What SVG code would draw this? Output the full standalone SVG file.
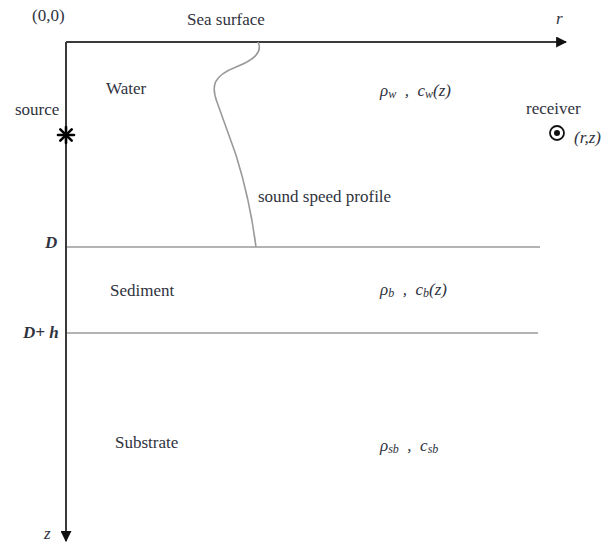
<svg xmlns="http://www.w3.org/2000/svg" width="603" height="545" viewBox="0 0 603 545">
<style>
text{font-family:"Liberation Serif","Times New Roman",serif;font-size:17px;fill:#2f3340}
.it{font-style:italic}
.sub{font-size:12px;font-style:italic}
.axis{stroke:#3a3a3a;stroke-width:2;fill:none}
.layer{stroke:#9a9a9a;stroke-width:1.6;fill:none}
</style>
<defs>
<marker id="ah" viewBox="0 0 10 10" refX="9" refY="5" markerWidth="11" markerHeight="11" markerUnits="userSpaceOnUse" orient="auto">
<path d="M0,0 L10,5 L0,10 z" fill="#111"/>
</marker>
</defs>
<rect width="603" height="545" fill="#fff"/>
<g id="connectors">
<line class="axis" x1="66" y1="42" x2="566" y2="42" marker-end="url(#ah)"/>
<line class="axis" x1="66" y1="42" x2="66" y2="541" marker-end="url(#ah)"/>
<line class="layer" x1="67" y1="247" x2="540" y2="247"/>
<line class="layer" x1="67" y1="333" x2="538" y2="333"/>
<path class="layer" stroke="#777" d="M258,42 C263,52 254,60 236,67 C213,76 211,86 217,102 L236,155 Q250,200 256,247"/>
</g>
<g id="labels">
<text x="32" y="21">(0,0)</text>
<text x="187" y="25">Sea surface</text>
<text class="it" x="556" y="24">r</text>
<text x="106" y="94">Water</text>
<text x="15" y="115">source</text>
<text class="it" font-weight="bold" x="45" y="248" font-size="16">D</text>
<text x="110" y="296">Sediment</text>
<text class="it" font-weight="bold" x="23" y="338" font-size="16">D+ h</text>
<text x="115" y="448">Substrate</text>
<text class="it" x="44" y="539">z</text>
<text x="258" y="202">sound speed profile</text>
</g>
<g id="water-params">
<text class="it" x="380" y="96">ρ<tspan class="sub" dy="2">w</tspan><tspan dy="-2" xml:space="preserve">  ,  c</tspan><tspan class="sub" dy="2">w</tspan><tspan dy="-2">(z)</tspan></text>
</g>
<g id="sediment-params">
<text class="it" x="380" y="295">ρ<tspan class="sub" dy="2">b</tspan><tspan dy="-2" xml:space="preserve">  ,  c</tspan><tspan class="sub" dy="2">b</tspan><tspan dy="-2">(z)</tspan></text>
</g>
<g id="substrate-params">
<text class="it" x="380" y="451">ρ<tspan class="sub" dy="2">sb</tspan><tspan dy="-2" xml:space="preserve">  ,  c</tspan><tspan class="sub" dy="2">sb</tspan></text>
</g>
<g id="source">
<g stroke="#000" stroke-width="2.6" stroke-linecap="round">
<line x1="66" y1="127" x2="66" y2="143"/>
<line x1="58" y1="135" x2="74" y2="135"/>
<line x1="60.3" y1="129.3" x2="71.7" y2="140.7"/>
<line x1="60.3" y1="140.7" x2="71.7" y2="129.3"/>
</g>
</g>
<g id="receiver">
<text x="526" y="114">receiver</text>
<circle cx="557" cy="133" r="7" fill="none" stroke="#111" stroke-width="1.8"/>
<circle cx="557" cy="133" r="3" fill="#111"/>
<text class="it" x="574" y="143">(r,z)</text>
</g>
</svg>
